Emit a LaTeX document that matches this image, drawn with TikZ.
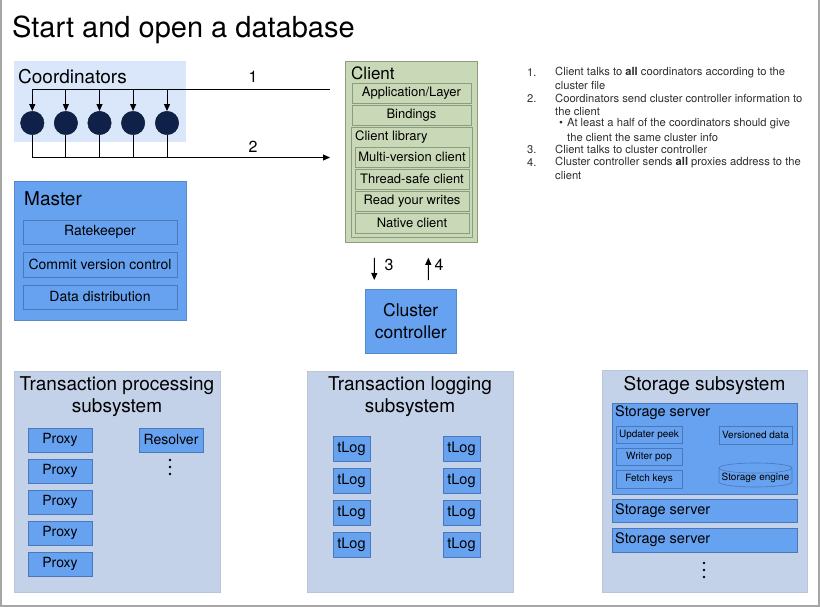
\documentclass[tikz,border=0pt]{standalone}
\usepackage{fontspec}
\setmainfont{TeX Gyre Heros}
\usetikzlibrary{arrows.meta}

\definecolor{coordbg}{HTML}{DAE6FA}
\definecolor{masterblue}{HTML}{66A2F0}
\definecolor{blueedge}{HTML}{4A78B8}
\definecolor{subbg}{HTML}{C3D2E8}
\definecolor{clientbg}{HTML}{C9D9B7}
\definecolor{clientedge}{HTML}{8C9C80}
\definecolor{navy}{HTML}{0F2148}
\definecolor{notegray}{HTML}{2E2E2E}
\definecolor{framegray}{HTML}{A6A6A6}

\newcommand{\fs}[1]{\fontsize{#1}{#1}\selectfont}

\tikzset{
  bluebox/.style={fill=masterblue, draw=blueedge, line width=0.8pt},
  smallbox/.style={fill=masterblue, draw=blueedge, line width=0.6pt},
  plainblue/.style={fill=masterblue, draw=masterblue!85!black, line width=0.5pt},
  subbox/.style={fill=subbg, draw=subbg!85!gray, line width=0.5pt},
  greenbox/.style={fill=clientbg, draw=clientedge, line width=0.8pt},
  coordball/.style={circle, fill=navy, draw=navy!70!black, minimum size=23.5pt, inner sep=0pt},
  flow/.style={line width=1pt, black},
  headed/.style={-{Triangle[length=7pt,width=6pt]}},
  note/.style={anchor=west, inner sep=0pt, text=notegray, font=\fs{11.2}},
  vdot/.style={circle, fill=black, minimum size=2.6pt, inner sep=0pt}
}

\begin{document}
\begin{tikzpicture}[x=1pt,y=-1pt, every node/.style={inner sep=0pt}]
	\useasboundingbox (0,0) rectangle (820,607);
	% frame
	\draw[framegray, line width=1.5pt] (0.75,0) -- (0.75,606) -- (819,606) -- (819,0);
	\node[anchor=base west] (title) at (12,38) {\fs{29}Start and open a database};

	% coordinators
	\draw[fill=coordbg, draw=none] (14,61) rectangle (186,142);
	\node[anchor=west] (coordlbl) at (18,77) {\fs{19}Coordinators};
	\foreach \i/\x in {1/32.3,2/65.9,3/99.5,4/133.1,5/167}
		\node[coordball] (k\i) at (\x,123) {};
	\coordinate (in1) at (330,90);
	\coordinate (out2) at (330,157.5);
	\draw[flow] (in1) -- (k1 |- in1);
	\foreach \i in {1,...,5} {
		\draw[flow, headed] (k\i |- in1) -- (k\i.north);
		\draw[flow] (k\i.south) -- (k\i |- out2);
	}
	\draw[flow, headed] (k1 |- out2) -- (out2);
	\node (lbl1) at (253,77) {\fs{16}1};
	\node (lbl2) at (253,147) {\fs{16}2};

	% client
	\node[greenbox, minimum width=132pt, minimum height=181pt, anchor=north west] (client) at (345,61) {};
	\node[anchor=west] (clientlbl) at (351,73) {\fs{17}Client};
	\draw[greenbox] (352,83) rectangle (471,103) node[pos=.5] (app) {\fs{13}Application/Layer};
	\draw[greenbox] (352,105) rectangle (471,125) node[pos=.5] (bind) {\fs{13}Bindings};
	\draw[greenbox] (351,127) rectangle (472,237);
	\node[anchor=west] (liblbl) at (355,137) {\fs{13}Client library};
	\draw[greenbox] (355,147) rectangle (469,167) node[pos=.5] (multi) {\fs{13}Multi-version client};
	\draw[greenbox] (355,169) rectangle (469,189) node[pos=.5] (tsafe) {\fs{13}Thread-safe client};
	\draw[greenbox] (355,191) rectangle (469,211) node[pos=.5] (ryw) {\fs{13}Read your writes};
	\draw[greenbox] (355,213) rectangle (469,233) node[pos=.5] (native) {\fs{13}Native client};

	% notes
	\node[note] (n1) at (527,72.5) {1.};
	\node[note] (t1a) at (555,72.5) {Client talks to \textbf{all} coordinators according to the};
	\node[note] (t1b) at (555,85.4) {cluster file};
	\node[note] (n2) at (527,98.3) {2.};
	\node[note] (t2a) at (555,98.3) {Coordinators send cluster controller information to};
	\node[note] (t2b) at (555,111.2) {the client};
	\node[note] (b2) at (559,124.1) {\textbullet};
	\node[note] (t2c) at (567,124.1) {At least a half of the coordinators should give};
	\node[note] (t2d) at (567,137) {the client the same cluster info};
	\node[note] (n3) at (527,149.9) {3.};
	\node[note] (t3) at (555,149.9) {Client talks to cluster controller};
	\node[note] (n4) at (527,162.8) {4.};
	\node[note] (t4a) at (555,162.8) {Cluster controller sends \textbf{all} proxies address to the};
	\node[note] (t4b) at (555,175.7) {client};

	% master
	\draw[plainblue] (14,181) rectangle (186,320);
	\node[anchor=west] (masterlbl) at (24,199) {\fs{19}Master};
	\draw[bluebox] (23,220) rectangle (177,244) node[pos=.5] (rate) {\fs{14}Ratekeeper};
	\draw[bluebox] (23,252) rectangle (177,277) node[pos=.5] (commit) {\fs{14}Commit version control};
	\draw[bluebox] (23,285) rectangle (177,309) node[pos=.5] (distrib) {\fs{14}Data distribution};

	% cluster controller
	\node[plainblue, minimum width=91pt, minimum height=64pt, anchor=north west, align=center,
		font=\fontsize{17.5}{21.5}\selectfont] (cc) at (365,289) {Cluster\\controller};
	\draw[flow, headed, shorten <=15pt, shorten >=9pt] ([xshift=-37pt]client.south) -- ([xshift=-36.5pt]cc.north);
	\draw[flow, headed, shorten <=9pt, shorten >=15pt] ([xshift=17.5pt]cc.north) -- ([xshift=17pt]client.south);
	\node (lbl3) at (389,265) {\fs{16}3};
	\node (lbl4) at (439,265) {\fs{16}4};

	% transaction processing
	\draw[subbox] (14,371) rectangle (220,592);
	\node[align=center, font=\fontsize{19}{22}\selectfont] (tpslbl) at (117,397) {Transaction processing\\subsystem};
	\foreach \i/\y in {1/428,2/459,3/490,4/521,5/552}
		\draw[bluebox] (28,\y) rectangle (92,\y+24) node[pos=.5] (proxy\i) {\fs{14}Proxy};
	\draw[bluebox] (139,428) rectangle (203,452) node[pos=.5] (resolver) {\fs{14}Resolver};
	\foreach \i/\y in {1/460,2/467,3/474}
		\node[vdot] (rdot\i) at (170,\y) {};

	% transaction logging
	\draw[subbox] (307,371) rectangle (513,592);
	\node[align=center, font=\fontsize{19}{22}\selectfont] (tlslbl) at (410,397) {Transaction logging\\subsystem};
	\foreach \r/\y in {1/436,2/468,3/500,4/532} {
		\draw[bluebox] (333,\y) rectangle (370,\y+25) node[pos=.5] (logl\r) {\fs{14.5}tLog};
		\draw[bluebox] (443,\y) rectangle (480,\y+25) node[pos=.5] (logr\r) {\fs{14.5}tLog};
	}

	% storage
	\draw[subbox] (602,370) rectangle (807,592);
	\node (sslbl) at (704.5,385) {\fs{19}Storage subsystem};
	\draw[bluebox] (612,403) rectangle (797,494);
	\node[anchor=west] (srv1lbl) at (615,413) {\fs{14.5}Storage server};
	\draw[smallbox] (616,426) rectangle (682,443) node[pos=.5] (peek) {\fs{10}Updater peek};
	\draw[smallbox] (616,448) rectangle (682,465) node[pos=.5] (wpop) {\fs{10}Writer pop};
	\draw[smallbox] (616,470) rectangle (682,488) node[pos=.5] (fetch) {\fs{10}Fetch keys};
	\draw[smallbox] (719,426) rectangle (792,444) node[pos=.5] (vdata) {\fs{10}Versioned data};
	\draw[smallbox] (719,468) -- (719,482) arc[start angle=180,end angle=0,x radius=36.5,y radius=5]
		-- (792,468) arc[start angle=0,end angle=-180,x radius=36.5,y radius=5] -- cycle;
	\draw[smallbox, fill=none] (792,468) arc[start angle=0,end angle=180,x radius=36.5,y radius=5];
	\node (engine) at (755.5,478) {\fs{10}Storage engine};
	\draw[bluebox] (612,499) rectangle (797,522);
	\node[anchor=west] (srv2lbl) at (615,510.5) {\fs{14.5}Storage server};
	\draw[bluebox] (612,528) rectangle (797,552);
	\node[anchor=west] (srv3lbl) at (615,540) {\fs{14.5}Storage server};
	\foreach \i/\y in {1/563,2/570,3/577}
		\node[vdot] (sdot\i) at (704,\y) {};
\end{tikzpicture}
\end{document}
